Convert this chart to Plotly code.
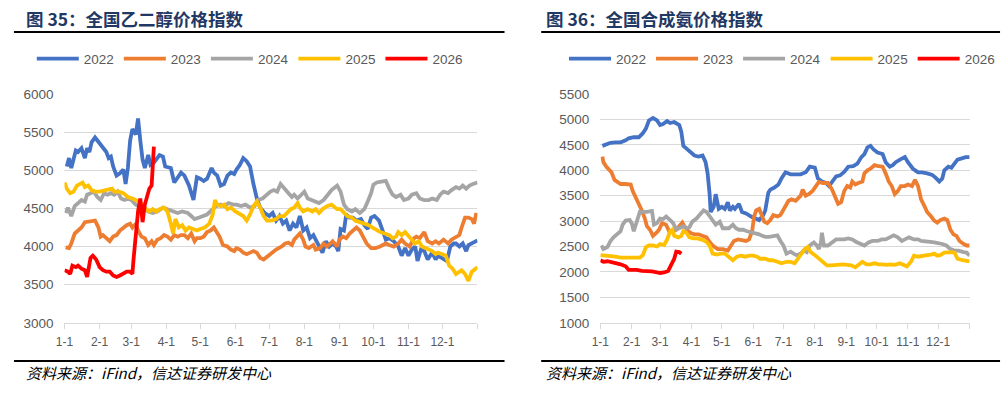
import plotly.graph_objects as go

# ---------------- data: 全国乙二醇价格指数 (left) ----------------
meg_2022_day = [2,4,6,10,12,15,18,20,22,24,27,30,33,37,39,41,43,46,49,52,54,56,58,60,63,65,67,69,71,74,76,79,84,87,89,94,97,100,103,106,110,114,117,120,123,126,130,132,135,138,141,144,147,150,152,155,158,161,164,167,170,173,177,181,184,187,190,193,196,199,202,205,208,211,214,217,220,222,225,228,231,234,237,240,242,244,247,249,252,255,258,262,265,268,271,274,278,281,284,287,291,295,298,301,304,307,310,312,315,318,321,325,328,330,333,338,341,344,346,349,352,355,357,360,363,365]
meg_2022 = [5050,5160,5030,5260,5240,5290,5160,5290,5240,5370,5430,5370,5310,5240,5160,5180,5050,4930,4960,5010,4820,5030,5390,5540,5470,5680,5390,5140,5030,5200,5070,5100,5200,5180,5050,5030,4840,4910,4970,4930,4800,4610,4910,4890,4860,4890,5030,4970,4930,4800,4820,4930,4970,4950,5010,5070,5160,5120,5050,4820,4630,4510,4440,4400,4440,4340,4400,4300,4340,4210,4300,4250,4400,4210,4250,4110,4150,4090,4000,3920,4070,4000,4040,4000,3940,4230,4210,4420,4380,4380,4340,4360,4280,4230,4380,4400,4340,4210,4090,4110,4070,4000,3880,3980,3880,3960,4000,3810,3960,3940,3830,3920,3830,3880,3850,3810,4000,4040,4040,4000,4040,3940,4020,4040,4070,4080]

meg_2023_day = [1,4,6,9,12,15,18,21,24,27,30,32,34,37,40,43,46,49,52,55,58,60,63,65,68,71,74,77,79,82,85,88,91,94,97,100,103,106,109,112,115,117,120,123,126,129,132,134,137,140,144,147,150,152,155,158,161,164,167,170,173,176,179,183,187,192,195,198,201,203,206,208,211,213,216,220,222,226,229,232,235,237,241,243,246,249,252,255,258,261,264,267,271,275,279,284,287,291,295,298,301,305,309,311,314,318,321,325,328,331,335,339,342,346,349,351,354,357,360,362,364]
meg_2023 = [3990,3980,4040,4170,4210,4250,4320,4330,4330,4340,4250,4130,4150,4110,4070,4130,4150,4210,4250,4280,4300,4250,4300,4210,4130,4110,4020,4070,4020,4090,4110,4150,4130,4090,4150,4130,4150,4150,4110,4170,4070,4110,4110,4130,4190,4210,4250,4210,4130,4020,4000,3960,3940,3980,3960,3920,3900,3920,3940,3920,3850,3830,3870,3920,3960,4000,4040,4050,4020,4090,4130,4170,4090,4000,3980,4020,3960,3980,4040,4000,4040,4070,4000,4090,4130,4110,4170,4210,4250,4210,4130,4040,3980,3980,4000,4040,4020,4000,4040,4090,4040,4000,4110,4130,4110,4190,4070,4040,4070,4040,4090,4040,4090,4130,4150,4250,4380,4380,4360,4300,4440]

meg_2024_day = [1,3,6,9,12,15,18,20,23,26,29,32,35,38,41,44,47,50,53,56,59,63,66,70,74,78,82,87,91,96,100,104,109,112,115,119,123,126,131,134,138,141,145,149,152,156,160,164,168,171,175,179,182,185,188,191,195,198,201,203,206,209,212,215,218,222,225,229,233,236,241,244,247,250,254,257,261,265,268,271,273,276,280,284,287,290,293,297,300,304,307,311,314,318,322,325,329,332,335,339,342,346,349,352,355,358,361,365]
meg_2024 = [4440,4510,4400,4530,4570,4610,4590,4680,4700,4720,4650,4610,4700,4680,4700,4680,4720,4630,4610,4630,4610,4550,4530,4510,4460,4440,4460,4510,4490,4460,4440,4460,4440,4400,4360,4380,4400,4420,4490,4530,4550,4530,4570,4550,4550,4530,4550,4510,4530,4610,4630,4690,4720,4740,4720,4820,4760,4700,4650,4680,4630,4680,4720,4630,4610,4590,4570,4610,4680,4740,4800,4720,4550,4490,4460,4490,4440,4490,4590,4700,4810,4840,4850,4860,4760,4680,4650,4680,4610,4630,4680,4700,4630,4610,4610,4630,4610,4680,4720,4700,4740,4780,4760,4800,4760,4800,4820,4840]

meg_2025_day = [0,2,5,8,11,14,16,18,21,24,27,31,35,39,42,44,48,52,56,60,63,66,69,72,75,78,81,84,88,91,94,96,98,101,104,107,110,113,117,120,124,128,131,133,135,138,141,144,147,151,155,158,161,164,167,170,173,176,179,183,187,190,194,197,200,203,206,208,211,215,219,222,225,228,232,236,238,241,244,247,250,254,257,261,265,269,272,276,279,283,287,290,293,295,298,301,304,307,310,313,316,319,322,325,328,330,334,337,340,343,346,349,351,354,357,360,363,365]
meg_2025 = [4840,4760,4700,4720,4800,4820,4840,4780,4800,4740,4720,4720,4730,4740,4760,4720,4720,4700,4650,4630,4610,4590,4550,4490,4460,4490,4460,4490,4510,4460,4300,4170,4360,4250,4280,4210,4250,4230,4210,4230,4250,4300,4420,4610,4550,4530,4550,4490,4510,4460,4420,4400,4340,4420,4530,4590,4510,4400,4340,4340,4360,4400,4400,4440,4490,4510,4570,4510,4460,4490,4460,4490,4440,4490,4530,4550,4530,4490,4490,4440,4400,4380,4340,4320,4300,4280,4250,4210,4190,4170,4150,4110,4130,4190,4150,4190,4130,4090,4040,4070,4000,3980,3960,3940,3900,3920,3900,3880,3750,3710,3640,3670,3690,3640,3550,3670,3710,3730]

meg_2026_day = [0,3,5,7,10,12,15,18,20,23,25,28,31,34,37,40,43,46,49,52,55,58,60,61,63,65,67,69,71,73,75,77,78,79]
meg_2026 = [3690,3670,3640,3750,3730,3750,3710,3690,3600,3850,3880,3830,3730,3690,3670,3670,3620,3600,3620,3640,3670,3670,3640,3830,4130,4460,4630,4320,4550,4680,4760,4800,5010,5310]

# ---------------- data: 全国合成氨价格指数 (right) ----------------
nh3_2022_day = [2,5,10,15,20,25,28,33,38,42,45,48,52,56,59,62,66,69,73,78,80,82,86,89,93,97,101,104,106,108,109,112,114,117,120,123,126,128,131,133,137,140,144,149,153,157,161,163,166,168,172,176,179,183,188,193,198,203,207,212,215,219,223,226,229,233,237,241,245,250,254,258,261,264,267,270,274,279,282,286,289,292,297,301,304,309,314,318,323,328,331,335,338,340,344,347,350,353,358,361,365]
nh3_2022 = [4480,4510,4540,4550,4550,4590,4630,4650,4650,4730,4820,4980,5030,4980,4890,4910,4970,4930,4950,4890,4760,4480,4410,4350,4290,4270,4290,4160,3940,3530,3180,3280,3530,3240,3280,3240,3370,3210,3280,3240,3340,3180,3150,3090,3050,3020,3120,3210,3560,3620,3660,3720,3840,3960,3920,3920,3920,3960,4070,4050,3840,3780,3750,3690,3780,3880,3900,3970,4070,4080,4130,4260,4320,4450,4480,4410,4350,4320,4160,4070,4100,4160,4220,4260,4160,4030,3960,3960,3940,3910,3860,3780,3840,4000,4070,4050,4130,4210,4240,4260,4260]

nh3_2023_day = [2,3,6,9,11,14,17,20,24,28,30,32,35,38,41,44,46,49,52,56,58,61,65,68,72,75,78,81,83,87,90,93,97,101,105,108,111,116,121,126,129,132,136,140,144,147,150,152,154,157,159,162,165,168,171,175,178,181,183,186,189,193,198,200,203,206,210,213,216,220,225,229,232,235,238,241,244,247,249,252,255,259,261,264,267,271,275,279,282,285,288,291,294,297,301,304,308,311,314,317,320,323,327,330,333,336,340,343,346,349,352,355,359,362,365]
nh3_2023 = [4270,4160,4070,4000,3960,3810,3780,3730,3730,3730,3720,3590,3470,3310,3210,3050,2900,2830,2710,2780,2830,2960,2930,2800,2800,2830,2900,2970,2900,2800,2760,2740,2740,2710,2680,2590,2520,2450,2450,2420,2520,2610,2640,2630,2610,2640,2800,3090,3210,3240,3150,2990,2960,3020,3120,3090,3120,3240,3280,3400,3430,3400,3500,3620,3500,3530,3600,3690,3770,3750,3750,3620,3500,3340,3370,3590,3690,3660,3780,3720,3750,3780,3940,4000,4030,4100,4080,4070,3940,3780,3690,3530,3590,3690,3690,3720,3690,3810,3690,3430,3310,3180,3090,3010,2970,3020,3050,3020,2830,2740,2710,2610,2550,2520,2520]

nh3_2024_day = [1,3,7,10,13,16,20,22,25,29,31,33,36,39,42,46,51,53,56,59,62,65,69,72,75,78,82,85,88,91,95,98,102,105,108,111,114,118,121,124,127,131,134,137,141,145,150,153,157,160,163,167,171,175,178,181,184,188,191,194,198,201,204,207,211,214,216,218,219,221,225,229,233,237,241,245,249,253,257,261,265,269,274,278,282,286,290,294,298,301,305,310,314,317,322,326,330,334,338,342,346,350,354,359,362,365]
nh3_2024 = [2520,2450,2490,2610,2680,2740,2800,2930,3010,3020,2960,2800,3020,3180,3180,3180,3200,2930,2960,3050,3040,3090,3020,2960,2830,2860,2900,2860,2880,2990,3050,3120,3210,3180,3090,2990,2930,2990,2860,2860,2860,2930,2860,2830,2830,2800,2780,2770,2740,2710,2690,2690,2710,2720,2610,2520,2360,2400,2360,2330,2360,2420,2390,2520,2580,2520,2450,2580,2770,2520,2520,2580,2640,2640,2640,2660,2640,2590,2550,2520,2580,2610,2610,2640,2640,2690,2720,2680,2610,2640,2680,2640,2640,2610,2590,2590,2580,2570,2550,2520,2450,2420,2420,2390,2380,2320]

nh3_2025_day = [0,5,10,15,20,25,29,34,39,42,45,48,52,56,59,63,66,69,71,73,77,80,82,85,88,92,96,101,105,108,111,115,119,123,127,131,135,139,143,147,151,155,158,163,167,170,175,179,184,188,192,195,199,202,205,208,212,216,219,224,228,232,236,240,244,248,252,255,259,263,267,271,275,279,283,287,291,296,300,303,307,310,314,318,323,327,330,333,336,340,343,347,350,353,358,362,365]
nh3_2025 = [2330,2320,2320,2300,2280,2280,2280,2280,2280,2330,2490,2520,2520,2500,2550,2530,2640,2800,2830,2710,2680,2710,2800,2770,2680,2660,2660,2630,2590,2520,2360,2340,2360,2360,2300,2230,2300,2320,2300,2320,2320,2300,2260,2260,2230,2230,2200,2170,2200,2200,2170,2260,2390,2450,2490,2390,2330,2260,2200,2130,2130,2140,2140,2150,2140,2130,2090,2140,2200,2150,2150,2170,2150,2150,2140,2150,2140,2170,2130,2110,2200,2320,2300,2320,2330,2340,2360,2320,2330,2380,2390,2390,2380,2260,2230,2220,2210]

nh3_2026_day = [0,3,7,11,16,20,25,28,32,36,41,46,51,56,59,63,67,70,73,75,78,80]
nh3_2026 = [2230,2200,2210,2200,2170,2150,2110,2040,2040,2040,2020,2020,2010,1990,1980,1990,2020,2140,2260,2400,2390,2360]

years = ["2022", "2023", "2024", "2025", "2026"]
colors = ["#4472C4", "#ED7D31", "#A5A5A5", "#FFC000", "#FF0000"]
month_ticks = [0, 31, 59, 90, 120, 151, 181, 212, 243, 273, 304, 334, 365]
month_labels = ["1-1", "2-1", "3-1", "4-1", "5-1", "6-1", "7-1", "8-1", "9-1", "10-1", "11-1", "12-1", ""]

left_series = [(meg_2022_day, meg_2022), (meg_2023_day, meg_2023), (meg_2024_day, meg_2024),
               (meg_2025_day, meg_2025), (meg_2026_day, meg_2026)]
right_series = [(nh3_2022_day, nh3_2022), (nh3_2023_day, nh3_2023), (nh3_2024_day, nh3_2024),
                (nh3_2025_day, nh3_2025), (nh3_2026_day, nh3_2026)]

W, H = 1006, 393
def px(x):
    return x / W
def py(y):
    return 1 - y / H

fig = go.Figure()
for (d, v), yr, c in zip(left_series, years, colors):
    fig.add_trace(go.Scatter(x=d, y=v, mode="lines", name=yr, line=dict(color=c, width=3.8),
                             xaxis="x", yaxis="y", legend="legend"))
for (d, v), yr, c in zip(right_series, years, colors):
    fig.add_trace(go.Scatter(x=d, y=v, mode="lines", name=yr, line=dict(color=c, width=3.8),
                             xaxis="x2", yaxis="y2", legend="legend2"))

tickfont_x = dict(family="Liberation Sans, Arial, sans-serif", size=12, color="#595959")
tickfont_y = dict(family="Liberation Sans, Arial, sans-serif", size=13.5, color="#595959")

def xax(dom, anchor):
    return dict(domain=dom, range=[0, 365], tickmode="array", tickvals=month_ticks, ticktext=month_labels,
                ticks="outside", ticklen=5, tickcolor="#D9D9D9", tickwidth=1,
                showline=True, linecolor="#D9D9D9", linewidth=1, showgrid=False, zeroline=False,
                tickfont=tickfont_x, anchor=anchor, fixedrange=True, ticklabelstandoff=3)

def yax(dom, rng, anchor):
    return dict(domain=dom, range=rng, dtick=500, tick0=0, showgrid=True, gridcolor="#D9D9D9", gridwidth=1,
                showline=False, zeroline=False, ticks="", tickfont=tickfont_y, anchor=anchor,
                ticklabelstandoff=10, fixedrange=True)

ydom = [py(328.3), py(90.5)]
legfont = dict(family="Liberation Sans, Arial, sans-serif", size=13.5, color="#595959")
fig.update_layout(
    width=W, height=H, margin=dict(l=0, r=0, t=0, b=0),
    paper_bgcolor="white", plot_bgcolor="white",
    xaxis=xax([px(56), px(472.7)], "y"),
    yaxis=yax(ydom, [3000, 6000], "x"),
    xaxis2=xax([px(596.7), px(969.3)], "y2"),
    yaxis2=yax(ydom, [1000, 5500], "x2"),
    legend=dict(orientation="h", x=px(23), y=py(54), xanchor="left", yanchor="middle",
                font=legfont, itemwidth=42, bgcolor="rgba(0,0,0,0)", traceorder="normal"),
    legend2=dict(orientation="h", x=px(560), y=py(54), xanchor="left", yanchor="middle",
                 font=legfont, itemwidth=42, bgcolor="rgba(0,0,0,0)", traceorder="normal"),
    showlegend=True,
)

title_font = dict(family="Noto Sans CJK SC, sans-serif", size=17.5, color="#1F3864")
src_font = dict(family="Noto Sans CJK SC, sans-serif", size=15, color="#000000")
fig.add_annotation(text="<b>图 35：全国乙二醇价格指数</b>", xref="paper", yref="paper",
                   x=px(15), y=py(12), xanchor="left", yanchor="middle", showarrow=False, font=title_font)
fig.add_annotation(text="<b>图 36：全国合成氨价格指数</b>", xref="paper", yref="paper",
                   x=px(540), y=py(12), xanchor="left", yanchor="middle", showarrow=False, font=title_font)
fig.add_annotation(text="<i>资料来源：iFind，信达证券研发中心</i>", xref="paper", yref="paper",
                   x=px(15), y=py(380), xanchor="left", yanchor="middle", showarrow=False, font=src_font)
fig.add_annotation(text="<i>资料来源：iFind，信达证券研发中心</i>", xref="paper", yref="paper",
                   x=px(540), y=py(380), xanchor="left", yanchor="middle", showarrow=False, font=src_font)

for x0, x1 in [(5, 500), (537, 1000)]:
    for yy in [26, 368]:
        fig.add_shape(type="line", xref="paper", yref="paper", x0=px(x0), x1=px(x1), y0=py(yy), y1=py(yy),
                      line=dict(color="#000000", width=2))

fig.write_html("out.html")
